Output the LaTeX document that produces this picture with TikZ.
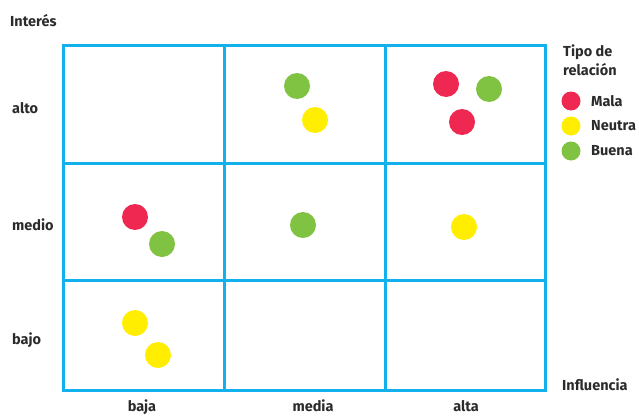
\documentclass[tikz,border=0pt]{standalone}
\usepackage{fontspec}
\setmainfont{Fira Sans}
\definecolor{gridc}{HTML}{12B0EC}
\definecolor{mala}{HTML}{EE2850}
\definecolor{neutra}{HTML}{FFEE00}
\definecolor{buena}{HTML}{80C242}
\definecolor{txt}{HTML}{2B2B2B}
\begin{document}
\begin{tikzpicture}[x=1pt,y=-1pt,
  lbl/.style={font=\bfseries\fontsize{14.5}{16}\selectfont, text=txt, inner sep=0pt},
  dot/.style={circle, minimum size=26pt, inner sep=0pt, draw=none},
  gridline/.style={draw=gridc, line width=3pt}]
\useasboundingbox (0,0) rectangle (639,415);
% grid
\draw[gridline] (63,45) rectangle (545,390);
\draw[gridline] (224,45) -- (224,390);
\draw[gridline] (385,45) -- (385,390);
\draw[gridline] (63,163) -- (545,163);
\draw[gridline] (63,280) -- (545,280);
% labels
\node[lbl, anchor=west] (interes) at (10,21) {Interés};
\node[lbl, anchor=west] (alto) at (12,108) {alto};
\node[lbl, anchor=west] (medio) at (12,225) {medio};
\node[lbl, anchor=west] (bajo) at (12,340) {bajo};
\node[lbl, anchor=base] (baja) at (142,411) {baja};
\node[lbl, anchor=base] (media) at (313,411) {media};
\node[lbl, anchor=base] (alta) at (466,411) {alta};
\node[lbl, anchor=west] (influencia) at (562,385) {Influencia};
% legend
\node[lbl, anchor=north west, align=left, font=\bfseries\fontsize{14.5}{19}\selectfont] (tipo) at (563,45) {Tipo de\\relación};
\node[dot, fill=mala, minimum size=19pt] (lm) at (571,101) {};
\node[dot, fill=neutra, minimum size=19pt] (ln) at (571,126) {};
\node[dot, fill=buena, minimum size=19pt] (lb) at (571,151) {};
\node[lbl, anchor=west] (tm) at (591,101) {Mala};
\node[lbl, anchor=west] (tn) at (591,126) {Neutra};
\node[lbl, anchor=west] (tb) at (591,151) {Buena};
% dots
\node[dot, fill=buena] (d1) at (297,86) {};
\node[dot, fill=neutra] (d2) at (315,120) {};
\node[dot, fill=mala] (d3) at (446,84) {};
\node[dot, fill=buena] (d4) at (489,89) {};
\node[dot, fill=mala] (d5) at (462,122) {};
\node[dot, fill=mala] (d6) at (135,217) {};
\node[dot, fill=buena] (d7) at (162,244) {};
\node[dot, fill=buena] (d8) at (303,225) {};
\node[dot, fill=neutra] (d9) at (464,227) {};
\node[dot, fill=neutra] (d10) at (135,323) {};
\node[dot, fill=neutra] (d11) at (158,355) {};
\end{tikzpicture}
\end{document}
